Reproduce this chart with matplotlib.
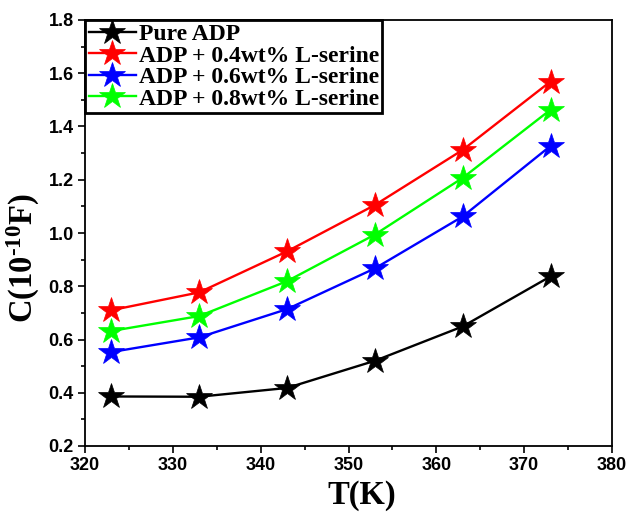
import matplotlib
matplotlib.use("Agg")
import matplotlib.pyplot as plt
from matplotlib.ticker import MultipleLocator

# temperature (K) and capacitance (x 1e-10 F)
temps = [323, 333, 343, 353, 363, 373]
pure_adp = [0.386, 0.385, 0.418, 0.520, 0.649, 0.837]
ser_04 = [0.710, 0.777, 0.931, 1.105, 1.312, 1.569]
ser_06 = [0.553, 0.608, 0.714, 0.867, 1.062, 1.327]
ser_08 = [0.632, 0.688, 0.819, 0.994, 1.207, 1.463]

labels = ["Pure ADP", "ADP + 0.4wt% L-serine",
          "ADP + 0.6wt% L-serine", "ADP + 0.8wt% L-serine"]
colors = ["black", "red", "#0000ff", "#00ff00"]

plt.rcParams["mathtext.fontset"] = "custom"
plt.rcParams["mathtext.rm"] = "Liberation Serif:bold"
plt.rcParams["mathtext.it"] = "Liberation Serif:bold"
plt.rcParams["mathtext.bf"] = "Liberation Serif:bold"
plt.rcParams["mathtext.default"] = "rm"

fig = plt.figure(figsize=(6.3, 5.14), dpi=100)
ax = fig.add_axes([85 / 630, 1 - 446 / 514, 527 / 630, 426 / 514])

for ys, lab, c in zip([pure_adp, ser_04, ser_06, ser_08], labels, colors):
    ax.plot(temps, ys, color=c, linewidth=1.7, marker="*", markersize=19,
            markeredgewidth=0.5, label=lab)

ax.set_xlim(320, 380)
ax.set_ylim(0.2, 1.8)
ax.xaxis.set_major_locator(MultipleLocator(10))
ax.xaxis.set_minor_locator(MultipleLocator(5))
ax.yaxis.set_major_locator(MultipleLocator(0.2))
ax.yaxis.set_minor_locator(MultipleLocator(0.1))
ax.tick_params(which="both", direction="out", top=False, right=False, width=1.2)
ax.tick_params(which="major", length=5, pad=3)
ax.tick_params(which="minor", length=3)
for lbl in ax.get_xticklabels() + ax.get_yticklabels():
    lbl.set_fontfamily("Liberation Sans")
    lbl.set_fontweight("bold")
    lbl.set_fontsize(13)
for sp in ax.spines.values():
    sp.set_linewidth(1.3)

serif = {"family": "Liberation Serif", "weight": "bold"}
ax.set_xlabel("T(K)", fontdict=serif, fontsize=23.5)
ax.set_ylabel("C(10$^{\u201010}$F)", fontdict=serif, fontsize=23.5)
ax.xaxis.set_label_coords(0.525, -0.08)
ax.yaxis.set_label_coords(-0.082, 0.44)

leg = ax.legend(loc="upper left", borderaxespad=0, fancybox=False, framealpha=1,
                edgecolor="black", handlelength=2.0, handletextpad=0.12,
                labelspacing=0.0, borderpad=0.15,
                prop={"family": "Liberation Serif", "weight": "bold", "size": 17})
leg.get_frame().set_linewidth(2.0)

fig.savefig("out.png", dpi=100)
